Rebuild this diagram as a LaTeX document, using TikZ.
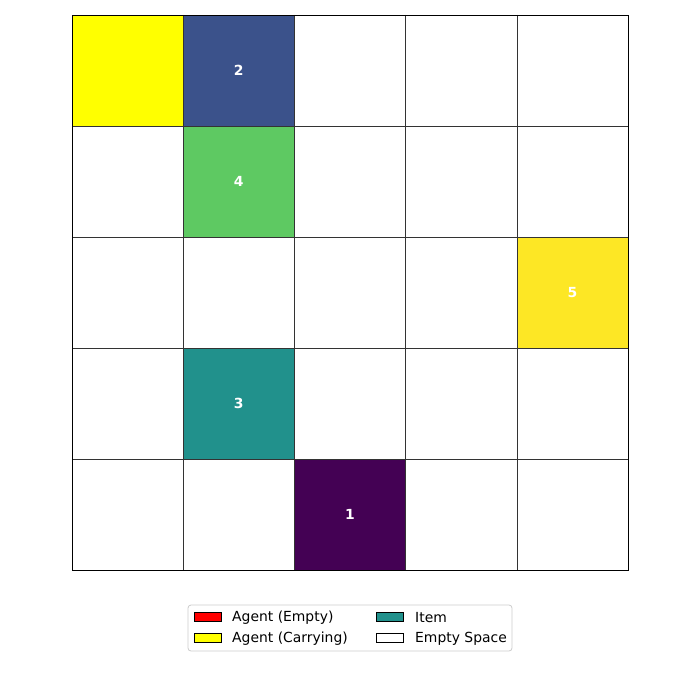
\documentclass[tikz,border=0pt]{standalone}
\usepackage{fontspec}
\setmainfont{DejaVu Sans}
\definecolor{cA}{HTML}{FFFF00}
\definecolor{cB}{HTML}{3B528B}
\definecolor{cC}{HTML}{5EC962}
\definecolor{cD}{HTML}{FDE725}
\definecolor{cE}{HTML}{21918C}
\definecolor{cF}{HTML}{440154}
\definecolor{lgedge}{HTML}{CCCCCC}
\begin{document}
\begin{tikzpicture}[x=1pt,y=-1pt,
  cellbox/.style={draw=black!80,line width=0.6pt},
  lbl/.style={text=white,font=\fontsize{13.9}{16}\selectfont\bfseries},
  patch/.style={draw=black,line width=0.9pt,minimum width=27pt,minimum height=9pt,inner sep=0pt},
  lgtext/.style={anchor=west,inner sep=0pt,font=\fontsize{13.9}{16}\selectfont}]
\useasboundingbox (0,0) rectangle (700,700);
\fill[white] (0,0) rectangle (700,700);
\def\cs{111.2}
\def\ch{111}
% colored cells
\foreach \c/\r/\col in {0/0/cA,1/0/cB,1/1/cC,4/2/cD,1/3/cE,2/4/cF}{
  \fill[\col] ({72+\c*\cs},{15+\r*\ch}) rectangle ({72+(\c+1)*\cs},{15+(\r+1)*\ch});
}
% grid
\foreach \i in {1,2,3,4}{
  \draw[black!80,line width=0.6pt] ({72+\i*\cs},15) -- ({72+\i*\cs},570);
  \draw[black!80,line width=0.6pt] (72,{15+\i*\ch}) -- (628,{15+\i*\ch});
}
\draw[black,line width=0.9pt] (72,15) rectangle (628,570);
% labels
\node[lbl] (n2) at ({72+1.5*\cs},{15+0.5*\ch}) {2};
\node[lbl] (n4) at ({72+1.5*\cs},{15+1.5*\ch}) {4};
\node[lbl] (n5) at ({72+4.5*\cs},{15+2.5*\ch}) {5};
\node[lbl] (n3) at ({72+1.5*\cs},{15+3.5*\ch}) {3};
\node[lbl] (n1) at ({72+2.5*\cs},{15+4.5*\ch}) {1};
% legend
\draw[lgedge,line width=0.8pt,rounded corners=3pt,fill=white] (188,605) rectangle (512,651);
\node[patch,fill=red] (p1) at (207.5,616.5) {};
\node[lgtext] (t1) at (232,617.3) {Agent (Empty)};
\node[patch,fill=cA] (p2) at (207.5,637.5) {};
\node[lgtext] (t2) at (232,638.3) {Agent (Carrying)};
\node[patch,fill=cE] (p3) at (390,616.5) {};
\node[lgtext] (t3) at (415,617.3) {Item};
\node[patch,fill=white] (p4) at (390,637.5) {};
\node[lgtext] (t4) at (415,638.3) {Empty Space};
\end{tikzpicture}
\end{document}
